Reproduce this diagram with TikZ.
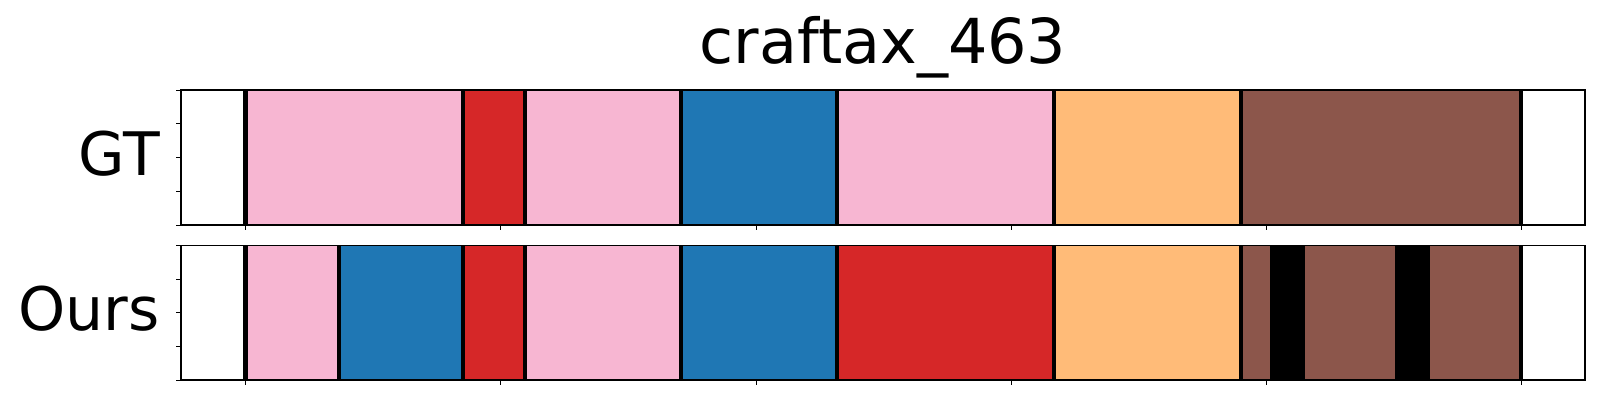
\documentclass[tikz,border=0pt]{standalone}
\usepackage{fontspec}
\setmainfont{DejaVu Sans}
\definecolor{cpink}{HTML}{F7B6D2}
\definecolor{cred}{HTML}{D62728}
\definecolor{cblue}{HTML}{1F77B4}
\definecolor{corange}{HTML}{FFBB78}
\definecolor{cbrown}{HTML}{8C564B}
\begin{document}
\begin{tikzpicture}[x=1pt,y=-1pt,
  lbl/.style={inner sep=0pt,font=\fontsize{62}{70}\selectfont},
  ylbl/.style={inner sep=0pt,font=\fontsize{60}{68}\selectfont},
  frame/.style={draw=black,line width=1.3pt},
  tickline/.style={draw=black,line width=1pt},
  sep/.style={draw=black,line width=4.5pt},
  seg/.style={draw=none}]
\useasboundingbox[fill=white] (0,0) rectangle (1600,400);
% title and labels
\node[lbl,anchor=base] (title) at (883,63) {craftax\_463};
\node[ylbl,anchor=base east] (gt) at (160,175) {GT};
\node[ylbl,anchor=base east] (ours) at (160,330) {Ours};
% top row segments
\foreach \a/\b/\c in {245.5/463/cpink,463/525/cred,525/681/cpink,681/837/cblue,837/1054/cpink,1054/1241/corange,1241/1521/cbrown}
  \fill[seg,\c] (\a,90) rectangle (\b,225);
\foreach \x in {245.5,463,525,681,837,1054,1241,1521}
  \draw[sep] (\x,90) -- (\x,225);
% bottom row segments
\foreach \a/\b/\c in {245.5/339/cpink,339/463/cblue,463/525/cred,525/681/cpink,681/837/cblue,837/1054/cred,1054/1241/corange,1241/1270/cbrown,1270/1305/black,1305/1395/cbrown,1395/1430/black,1430/1521/cbrown}
  \fill[seg,\c] (\a,245.7) rectangle (\b,380);
\foreach \x in {245.5,339,463,525,681,837,1054,1241,1521}
  \draw[sep] (\x,245.7) -- (\x,380);
% frames
\draw[frame] (181,90) rectangle (1585,225);
\draw[frame] (181,245.7) rectangle (1585,380);
% y ticks
\foreach \y in {90,123.75,157.5,191.25,225}
  \draw[tickline] (181,\y) -- (176,\y);
\foreach \y in {245.7,279.3,312.9,346.4,380}
  \draw[tickline] (181,\y) -- (176,\y);
% x ticks
\foreach \x in {245.7,500.9,756.1,1011.3,1266.5,1521.7}{
  \draw[tickline] (\x,225) -- (\x,230);
  \draw[tickline] (\x,380) -- (\x,385);
}
\end{tikzpicture}
\end{document}
